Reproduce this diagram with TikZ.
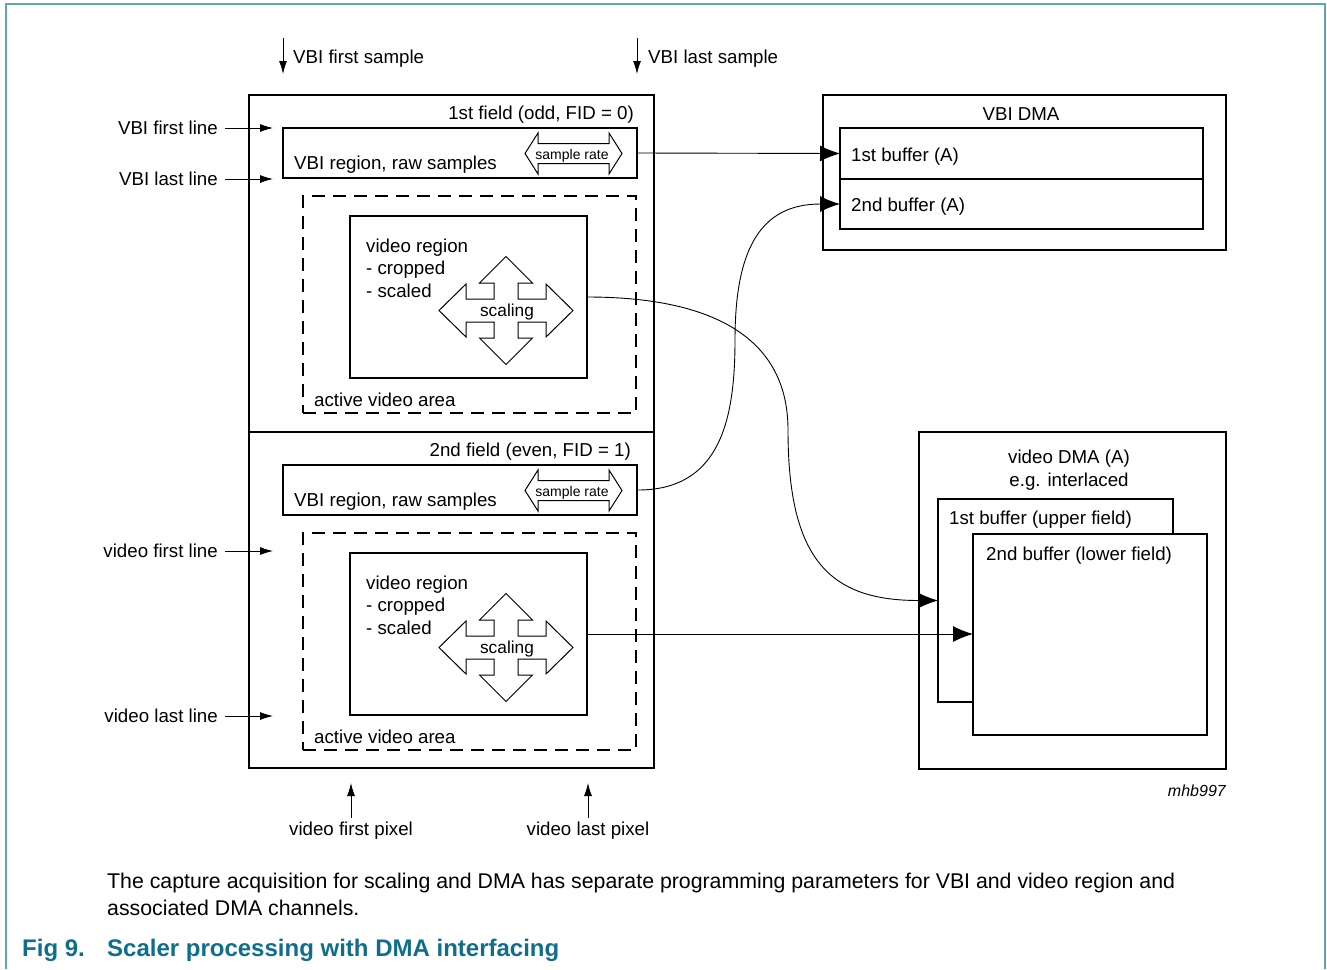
\documentclass[tikz,border=0pt]{standalone}
\usepackage{fontspec}
\setmainfont{Liberation Sans}
\usetikzlibrary{arrows.meta,calc}
\definecolor{framec}{RGB}{95,165,185}
\definecolor{figc}{RGB}{16,110,140}
\begin{document}
\begin{tikzpicture}[x=1pt,y=-1pt,
  box/.style={draw, line width=2.7pt, inner sep=0pt, outer sep=0pt, anchor=north west},
  dbox/.style={draw, line width=1.8pt, dash pattern=on 13pt off 8pt, inner sep=0pt, outer sep=0pt, anchor=north west},
  txt/.style={inner sep=0pt, font=\fontsize{18.7}{22.5}\selectfont},
  smalltxt/.style={inner sep=0pt, font=\fontsize{14}{16}\selectfont},
  sarr/.style={-{Latex[length=13pt,width=8pt]}, line width=0.9pt},
  barr/.style={-{Latex[length=20pt,width=16pt]}, line width=0.9pt},
  arrowshape/.style={draw, line width=1pt, fill=white, line join=miter}]
\useasboundingbox (0,0) rectangle (1327,969);
% frame
\draw[framec, line width=1.5pt] (6,969) -- (6,4) -- (1325,4) -- (1325,969);

% fields
\node[box, minimum width=405pt, minimum height=337pt] (f1) at (249,95) {};
\node[box, minimum width=405pt, minimum height=336pt] (f2) at (249,432) {};
\node[box, minimum width=354pt, minimum height=50pt] (vbi1) at (283,128) {};
\node[box, minimum width=354pt, minimum height=50pt] (vbi2) at (283,465) {};
\node[dbox, minimum width=333pt, minimum height=217pt] (av1) at (303,196) {};
\node[dbox, minimum width=333pt, minimum height=217pt] (av2) at (303,533) {};
\node[box, minimum width=237pt, minimum height=162pt] (vr1) at (350,216) {};
\node[box, minimum width=237pt, minimum height=162pt] (vr2) at (350,553) {};

\node[txt, anchor=base east] (f1t) at (634,119) {1st field (odd, FID = 0)};
\node[txt, anchor=base east] (f2t) at (631,456) {2nd field (even, FID = 1)};
\node[txt, anchor=base west] (vbi1t) at (294,169) {VBI region, raw samples};
\node[txt, anchor=base west] (vbi2t) at (294,506) {VBI region, raw samples};
\node[txt, anchor=base west] (av1t) at (314,406) {active video area};
\node[txt, anchor=base west] (av2t) at (314,743) {active video area};
\node[txt, anchor=base west] (vr1a) at (366,252) {video region};
\node[txt, anchor=base west] (vr1b) at (366,274) {- cropped};
\node[txt, anchor=base west] (vr1c) at (366,297) {- scaled};
\node[txt, anchor=base west] (vr2a) at (366,589) {video region};
\node[txt, anchor=base west] (vr2b) at (366,611) {- cropped};
\node[txt, anchor=base west] (vr2c) at (366,634) {- scaled};

% sample rate double arrows
\foreach \cy [count=\i] in {153.5,490.5}{
  \begin{scope}[shift={(573.5,\cy)}]
    \draw[arrowshape] (-48.5,0) -- (-35.5,-20.5) -- (-35.5,-10) -- (35.5,-10) -- (35.5,-20.5) -- (48.5,0) -- (35.5,20.5) -- (35.5,10) -- (-35.5,10) -- (-35.5,20.5) -- cycle;
  \end{scope}
}
\node[smalltxt, anchor=base] (sr1) at (572,159) {sample rate};
\node[smalltxt, anchor=base] (sr2) at (572,496) {sample rate};

% scaling crosses
\foreach \cy in {310.5,647.5}{
  \begin{scope}[shift={(506,\cy)}]
    \draw[arrowshape] (0,-54) -- (26.5,-27.5) -- (12,-27.5) -- (12,-11.5) -- (40,-11.5) -- (40,-26.5) -- (67,0) -- (40,26.5) -- (40,11.5) -- (12,11.5) -- (12,27.5) -- (26.5,27.5) -- (0,54) -- (-26.5,27.5) -- (-12,27.5) -- (-12,11.5) -- (-40,11.5) -- (-40,26.5) -- (-67,0) -- (-40,-26.5) -- (-40,-11.5) -- (-12,-11.5) -- (-12,-27.5) -- (-26.5,-27.5) -- cycle;
  \end{scope}
}
\node[inner sep=0pt, font=\fontsize{17.3}{20}\selectfont, anchor=base] (sc1) at (507,316) {scaling};
\node[inner sep=0pt, font=\fontsize{17.3}{20}\selectfont, anchor=base] (sc2) at (507,653) {scaling};

% top labels
\node[txt, anchor=base west] (fs) at (293,63) {VBI first sample};
\node[txt, anchor=base west] (ls) at (648,63) {VBI last sample};
\coordinate (fsa) at (283,38);
\coordinate (fsb) at (283,74);
\coordinate (lsa) at (637,38);
\coordinate (lsb) at (637,74);
\draw[sarr] (fsa) -- (fsb);
\draw[sarr] (lsa) -- (lsb);

% left labels
\node[txt, anchor=base east] (l1) at (218,134) {VBI first line};
\node[txt, anchor=base east] (l2) at (218,185) {VBI last line};
\node[txt, anchor=base east] (l3) at (218,557) {video first line};
\node[txt, anchor=base east] (l4) at (218,722) {video last line};
\coordinate (l1e) at (273,128);
\coordinate (l2e) at (273,179);
\coordinate (l3e) at (273,551);
\coordinate (l4e) at (273,716);
\draw[sarr] (225,128) -- (l1e);
\draw[sarr] (225,179) -- (l2e);
\draw[sarr] (225,551) -- (l3e);
\draw[sarr] (225,716) -- (l4e);

% bottom labels
\node[txt, anchor=base] (bp1) at (351,835) {video first pixel};
\node[txt, anchor=base] (bp2) at (588,835) {video last pixel};
\coordinate (bp1e) at (351,783);
\coordinate (bp2e) at (588,783);
\draw[sarr] (351,818) -- (bp1e);
\draw[sarr] (588,818) -- (bp2e);

% VBI DMA
\node[box, minimum width=403pt, minimum height=155pt] (dma) at (823,95) {};
\node[box, minimum width=363pt, minimum height=51pt] (buf1) at (840,128) {};
\node[box, minimum width=363pt, minimum height=50pt] (buf2) at (840,179) {};
\node[txt, anchor=base] (dmat) at (1021,120) {VBI DMA};
\node[txt, anchor=base west] (buf1t) at (851,161) {1st buffer (A)};
\node[txt, anchor=base west] (buf2t) at (851,211) {2nd buffer (A)};

% video DMA
\node[box, minimum width=307pt, minimum height=337pt] (vdma) at (919,432) {};
\node[box, minimum width=235pt, minimum height=203pt] (vb1) at (938,499) {};
\node[box, fill=white, minimum width=234pt, minimum height=201pt] (vb2) at (973,534) {};
\node[txt, anchor=base] (vdmat1) at (1069,463) {video DMA (A)};
\node[txt, anchor=base] (vdmat2) at (1069,486) {e.g. interlaced};
\node[txt, anchor=base west] (vb1t) at (949,524) {1st buffer (upper field)};
\node[txt, anchor=base west] (vb2t) at (986,560) {2nd buffer (lower field)};

% connectors
\draw[barr] (vbi1.east) -- (buf1.west);
\draw[barr] (vbi2.east) .. controls (720,490.5) and (735,420) .. (735,340) .. controls (735,250) and (760,204) .. (buf2.west);
\draw[barr] (vr1.east) .. controls (700,297) and (788,330) .. (788,430) .. controls (788,560) and (830,600.5) .. (vb1.west);
\draw[barr] (vr2.east) -- (vb2.west |- vr2.east);

\node[inner sep=0pt, font=\fontsize{16}{18}\selectfont\itshape, anchor=base east] (id) at (1226,796) {mhb997};

% caption
\node[inner sep=0pt, font=\fontsize{21.3}{26}\selectfont, anchor=base west] (cap1) at (107,888) {The capture acquisition for scaling and DMA has separate programming parameters for VBI and video region and};
\node[inner sep=0pt, font=\fontsize{21.3}{26}\selectfont, anchor=base west] (cap2) at (107,915) {associated DMA channels.};
\node[inner sep=0pt, font=\fontsize{24}{28}\selectfont\bfseries, text=figc, anchor=base west] (fig) at (22,956) {Fig 9.};
\node[inner sep=0pt, font=\fontsize{24}{28}\selectfont\bfseries, text=figc, anchor=base west] (title) at (107,956) {Scaler processing with DMA interfacing};
\end{tikzpicture}
\end{document}
